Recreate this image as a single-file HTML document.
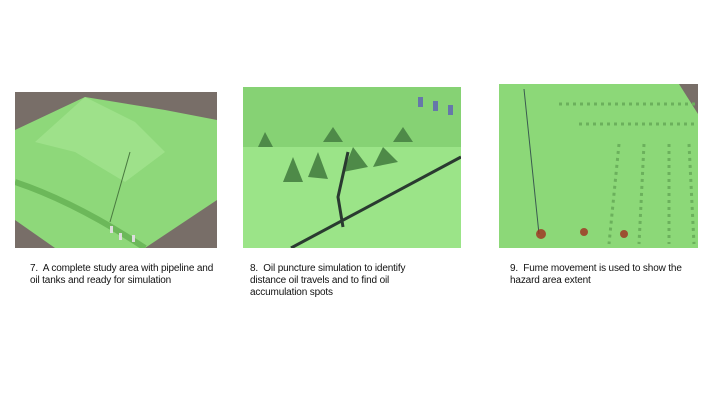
<!DOCTYPE html>
<html><head><meta charset="utf-8"><style>
body{margin:0;width:720px;height:405px;background:#fff;position:relative;overflow:hidden;font-family:"Liberation Sans",sans-serif}
.img{position:absolute}
.cap{position:absolute;font-size:10px;line-height:12px;color:#111;letter-spacing:-0.15px;white-space:nowrap}
</style></head><body>
<svg class="img" style="left:15px;top:92px" width="202" height="156">
<rect width="202" height="156" fill="#786e68"/>
<polygon points="0,38 70,5 150,18 202,28 202,108 130,156 40,156 0,128" fill="#8ed87a"/>
<polygon points="70,5 120,30 150,60 110,90 60,60 20,50" fill="#a8e894" opacity=".6"/>
<path d="M0,90 Q60,110 130,156" stroke="#6cb85a" stroke-width="6" fill="none"/>
<path d="M115,60 L95,130" stroke="#4a7a40" stroke-width="1" fill="none"/>
<rect x="95" y="134" width="3" height="7" fill="#ddd"/><rect x="104" y="141" width="3" height="7" fill="#ddd"/><rect x="117" y="143" width="3" height="7" fill="#ddd"/>
</svg>
<svg class="img" style="left:243px;top:87px" width="218" height="161">
<rect width="218" height="161" fill="#9be488"/>
<rect width="218" height="60" fill="#7ecb6c" opacity=".7"/>
<g fill="#4e8a48"><polygon points="40,95 50,70 60,95"/><polygon points="65,90 75,65 85,92"/><polygon points="100,85 110,60 125,80"/><polygon points="130,80 140,60 155,75"/><polygon points="15,60 22,45 30,60"/><polygon points="80,55 90,40 100,55"/><polygon points="150,55 160,40 170,55"/></g>
<path d="M48,161 L218,70" stroke="#2a3a30" stroke-width="3"/>
<path d="M105,65 L95,110 L100,140" stroke="#2a3a30" stroke-width="3" fill="none"/>
<rect x="175" y="10" width="5" height="10" fill="#6677aa"/><rect x="190" y="14" width="5" height="10" fill="#6677aa"/><rect x="205" y="18" width="5" height="10" fill="#6677aa"/>
</svg>
<svg class="img" style="left:499px;top:84px" width="199" height="164">
<rect width="199" height="164" fill="#8cd878"/>
<polygon points="180,0 199,0 199,30" fill="#786e68"/>
<g stroke="#6bb05c" stroke-width="3" stroke-dasharray="3 4" fill="none"><path d="M60,20 L199,20"/><path d="M80,40 L199,40"/><path d="M120,60 L110,160"/><path d="M145,60 L140,160"/><path d="M170,60 L170,160"/><path d="M190,60 L195,160"/></g>
<path d="M25,5 L40,150" stroke="#3a5a50" stroke-width="1"/>
<g fill="#a03020" opacity=".8"><circle cx="42" cy="150" r="5"/><circle cx="85" cy="148" r="4"/><circle cx="125" cy="150" r="4"/></g>
</svg>
<div class="cap" style="left:30px;top:263px">7.&nbsp; A complete study area with pipeline and<br>oil tanks and ready for simulation</div>
<div class="cap" style="left:250px;top:263px">8.&nbsp; Oil puncture simulation to identify<br>distance oil travels and to find oil<br>accumulation spots</div>
<div class="cap" style="left:510px;top:263px">9.&nbsp; Fume movement is used to show the<br>hazard area extent</div>
</body></html>
